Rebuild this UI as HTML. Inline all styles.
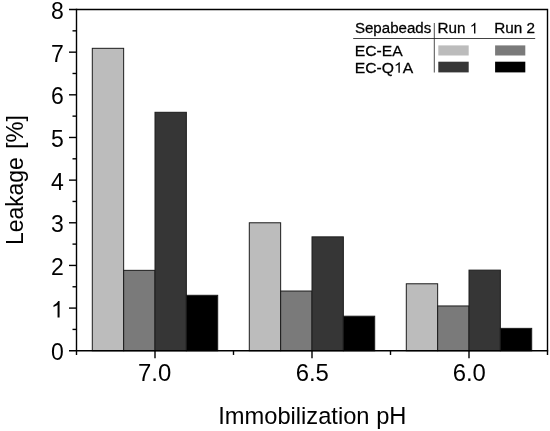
<!DOCTYPE html>
<html><head><meta charset="utf-8"><title>chart</title>
<style>html,body{margin:0;padding:0;background:#fff;}body{width:550px;height:431px;overflow:hidden;}svg{display:block;filter:grayscale(1);}text{font-family:"Liberation Sans",sans-serif;fill:#000;}</style></head><body>
<svg width="550" height="431" viewBox="0 0 550 431">
<rect x="0" y="0" width="550" height="431" fill="#fff"/>
<rect x="92.30" y="48.32" width="31.35" height="302.43" fill="#bcbcbc" stroke="#1c1c1c" stroke-width="1"/>
<rect x="123.65" y="270.34" width="31.35" height="80.41" fill="#7a7a7a" stroke="#1c1c1c" stroke-width="1"/>
<rect x="155.00" y="112.30" width="31.35" height="238.45" fill="#363636" stroke="#1c1c1c" stroke-width="1"/>
<rect x="186.35" y="295.30" width="31.35" height="55.45" fill="#000000" stroke="#1c1c1c" stroke-width="1"/>
<rect x="249.30" y="222.78" width="31.35" height="127.97" fill="#bcbcbc" stroke="#1c1c1c" stroke-width="1"/>
<rect x="280.65" y="291.03" width="31.35" height="59.72" fill="#7a7a7a" stroke="#1c1c1c" stroke-width="1"/>
<rect x="312.00" y="236.86" width="31.35" height="113.89" fill="#363636" stroke="#1c1c1c" stroke-width="1"/>
<rect x="343.35" y="316.20" width="31.35" height="34.55" fill="#000000" stroke="#1c1c1c" stroke-width="1"/>
<rect x="406.30" y="283.78" width="31.35" height="66.97" fill="#bcbcbc" stroke="#1c1c1c" stroke-width="1"/>
<rect x="437.65" y="305.96" width="31.35" height="44.79" fill="#7a7a7a" stroke="#1c1c1c" stroke-width="1"/>
<rect x="469.00" y="270.13" width="31.35" height="80.62" fill="#363636" stroke="#1c1c1c" stroke-width="1"/>
<rect x="500.35" y="328.36" width="31.35" height="22.39" fill="#000000" stroke="#1c1c1c" stroke-width="1"/>
<g stroke="#000" stroke-width="1.4" fill="none" stroke-linecap="butt">
<path d="M69.0,9.5 H547.5 V354.95"/>
<path d="M76.5,8.85 V354.95"/>
<path d="M69.0,350.75 H548.15"/>
<path d="M69.0,308.09 H76.5"/>
<path d="M69.0,265.44 H76.5"/>
<path d="M69.0,222.78 H76.5"/>
<path d="M69.0,180.12 H76.5"/>
<path d="M69.0,137.47 H76.5"/>
<path d="M69.0,94.81 H76.5"/>
<path d="M69.0,52.16 H76.5"/>
<path d="M72.5,329.42 H76.5"/>
<path d="M72.5,286.77 H76.5"/>
<path d="M72.5,244.11 H76.5"/>
<path d="M72.5,201.45 H76.5"/>
<path d="M72.5,158.80 H76.5"/>
<path d="M72.5,116.14 H76.5"/>
<path d="M72.5,73.48 H76.5"/>
<path d="M72.5,30.83 H76.5"/>
<path d="M155.00,350.75 V358.15"/>
<path d="M312.00,350.75 V358.15"/>
<path d="M469.00,350.75 V358.15"/>
<path d="M233.50,350.75 V354.95"/>
<path d="M390.50,350.75 V354.95"/>
</g>
<text x="63.8" y="360.25" font-size="23.0" text-anchor="end">0</text>
<path transform="translate(51.01,317.59) scale(0.01123,-0.01123)" d="M763 0H583V1147Q518 1085 412.5 1023Q307 961 223 930V1104Q374 1175 487 1276Q600 1377 647 1472H763Z" fill="#000"/>
<text x="63.8" y="274.94" font-size="23.0" text-anchor="end">2</text>
<text x="63.8" y="232.28" font-size="23.0" text-anchor="end">3</text>
<text x="63.8" y="189.62" font-size="23.0" text-anchor="end">4</text>
<text x="63.8" y="146.97" font-size="23.0" text-anchor="end">5</text>
<text x="63.8" y="104.31" font-size="23.0" text-anchor="end">6</text>
<text x="63.8" y="61.66" font-size="23.0" text-anchor="end">7</text>
<text x="63.8" y="19.00" font-size="23.0" text-anchor="end">8</text>
<text x="154.60" y="381.4" font-size="23.9" text-anchor="middle">7.0</text>
<text x="312.30" y="381.4" font-size="23.9" text-anchor="middle">6.5</text>
<text x="469.30" y="381.4" font-size="23.9" text-anchor="middle">6.0</text>
<text x="312.3" y="423.7" font-size="23.7" text-anchor="middle">Immobilization pH</text>
<g transform="translate(23.1,245.0) rotate(-90)"><text transform="scale(0.97,1)" x="0" y="0" font-size="23.6">Leakage</text><text x="95.9" y="0" font-size="23.6">[%]</text></g>
<g transform="translate(354.9,33.4) scale(1.028,1)" style="font-kerning:none" stroke="#000" stroke-width="0.25"><text x="0.000" y="0" font-size="14.7">Sepabeads</text></g>
<g transform="translate(437.4,33.4) scale(1.04,1)" style="font-kerning:none" stroke="#000" stroke-width="0.25"><text x="0.000" y="0" font-size="14.7">Run </text><path transform="translate(31.05,0.00) scale(0.00718,-0.00718)" d="M763 0H583V1147Q518 1085 412.5 1023Q307 961 223 930V1104Q374 1175 487 1276Q600 1377 647 1472H763Z" fill="#000"/></g>
<g transform="translate(494.2,33.4) scale(1.04,1)" style="font-kerning:none" stroke="#000" stroke-width="0.25"><text x="0.000" y="0" font-size="14.7">Run 2</text></g>
<g transform="translate(354.7,55.7) scale(1.068,1)" style="font-kerning:none" stroke="#000" stroke-width="0.25"><text x="0.000" y="0" font-size="14.7">EC-EA</text></g>
<g transform="translate(354.7,72.7) scale(1.068,1)" style="font-kerning:none" stroke="#000" stroke-width="0.25"><text x="0.000" y="0" font-size="14.7">EC-Q</text><path transform="translate(36.75,0.00) scale(0.00718,-0.00718)" d="M763 0H583V1147Q518 1085 412.5 1023Q307 961 223 930V1104Q374 1175 487 1276Q600 1377 647 1472H763Z" fill="#000"/><text x="44.923" y="0" font-size="14.7">A</text></g>
<path d="M353.2,38.5 H535.2" stroke="#111" stroke-width="0.8" fill="none"/>
<path d="M434.3,23 V72.5" stroke="#222" stroke-width="0.8" fill="none"/>
<rect x="438.3" y="45.4" width="30.4" height="10.1" fill="#bcbcbc"/>
<rect x="495.1" y="45.4" width="30.2" height="10.1" fill="#7a7a7a"/>
<rect x="438.3" y="61.7" width="30.4" height="10.7" fill="#363636"/>
<rect x="495.1" y="61.7" width="30.2" height="10.7" fill="#000000"/>
</svg></body></html>
